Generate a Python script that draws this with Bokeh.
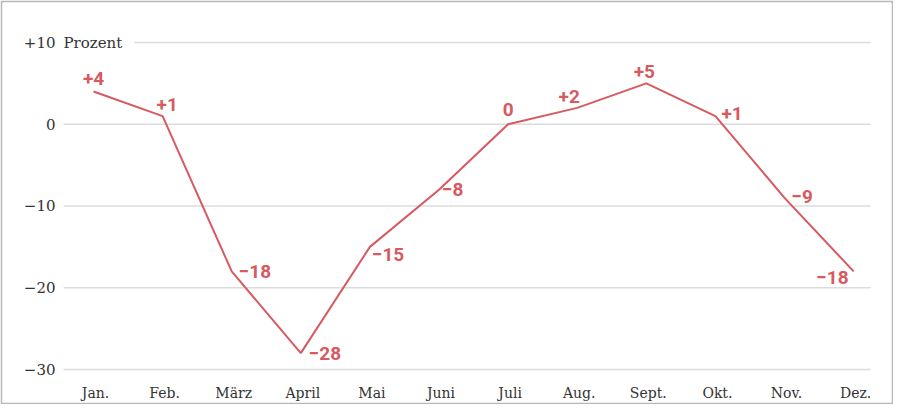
from bokeh.plotting import figure
from bokeh.models import ColumnDataSource, Range1d, Label
from bokeh.core.properties import value
from bokeh.embed import file_html
from bokeh.resources import INLINE

# data
months = ["Jan.", "Feb.", "März", "April", "Mai", "Juni",
          "Juli", "Aug.", "Sept.", "Okt.", "Nov.", "Dez."]
values = [4, 1, -18, -28, -15, -8, 0, 2, 5, 1, -9, -18]
value_labels = ["+4", "+1", "\u221218", "\u221228", "\u221215", "\u22128",
                "0", "+2", "+5", "+1", "\u22129", "\u221218"]
y_ticks = [-30, -20, -10, 0, 10]
y_tick_labels = ["\u221230", "\u221220", "\u221210", "0", "+10"]
unit_label = "Prozent"

# label placement next to each point (style only)
label_align = ["center", "left", "left", "left", "left", "left",
               "center", "center", "center", "left", "left", "right"]
label_dx = [0, -6, 7, 8, 2, 3, 0, -8, -2, 6, 7, -5]
label_dy = [-7, -5, 0, 0, 8, 0, -8, -5, -5, -3, -1, 6]
label_base = ["bottom", "bottom", "middle", "middle", "middle", "middle",
              "bottom", "bottom", "bottom", "middle", "middle", "middle"]

RED = "#d65a5f"
GREY = "#333333"
SERIF = value("DejaVu Serif")

# where the grid lines start and stop, in x units
GRID_X0, GRID_X1 = -0.434, 11.246

x = list(range(len(months)))
src = ColumnDataSource(dict(x=x, y=values, txt=value_labels, align=label_align,
                            dx=label_dx, dy=label_dy, base=label_base))
grid = ColumnDataSource(dict(y=y_ticks, txt=y_tick_labels,
                             x0=[GRID_X0] * len(y_ticks),
                             x1=[GRID_X1] * len(y_ticks)))
axis_x = ColumnDataSource(dict(x=x, txt=months, y=[min(y_ticks)] * len(months)))

# no axes: the frame fills the canvas, the 2px border fill is the grey frame
p = figure(width=893, height=404, output_backend="svg", toolbar_location=None,
           x_range=Range1d(-1.317, 11.548), y_range=Range1d(-34.037, 14.893),
           x_axis_location=None, y_axis_location=None,
           min_border=2)
p.min_border_left = p.min_border_right = p.min_border_top = p.min_border_bottom = 2
p.border_fill_color = "#b8b8b8"
p.background_fill_color = "white"
p.outline_line_color = None
p.grid.visible = False

# horizontal grid lines with their labels
p.segment("x0", "y", "x1", "y", source=grid, line_color="#dcdcdc", line_width=1.5)
p.text("x0", "y", text="txt", source=grid, x_offset=-8, text_align="right",
       text_baseline="middle", text_font=SERIF, text_font_size="15px",
       text_color=GREY)
p.add_layout(Label(x=GRID_X0, y=max(y_ticks), x_offset=-6, text=unit_label,
                   text_font="DejaVu Serif", text_font_size="15px",
                   text_color=GREY, text_baseline="middle",
                   background_fill_color="white",
                   padding=dict(left=6, right=12, top=4, bottom=4)))

# month names under the lowest grid line
p.text("x", "y", text="txt", source=axis_x, x_offset=2, y_offset=24,
       text_align="center", text_baseline="middle", text_font=SERIF,
       text_font_size="14px", text_color=GREY)

p.line("x", "y", source=src, line_color=RED, line_width=2)
p.text("x", "y", text="txt", source=src, x_offset="dx", y_offset="dy",
       text_align="align", text_baseline="base", text_color=RED,
       text_font=value("Roboto"), text_font_style="bold", text_font_size="19px")

open("out.html", "w").write(file_html(p, INLINE))
